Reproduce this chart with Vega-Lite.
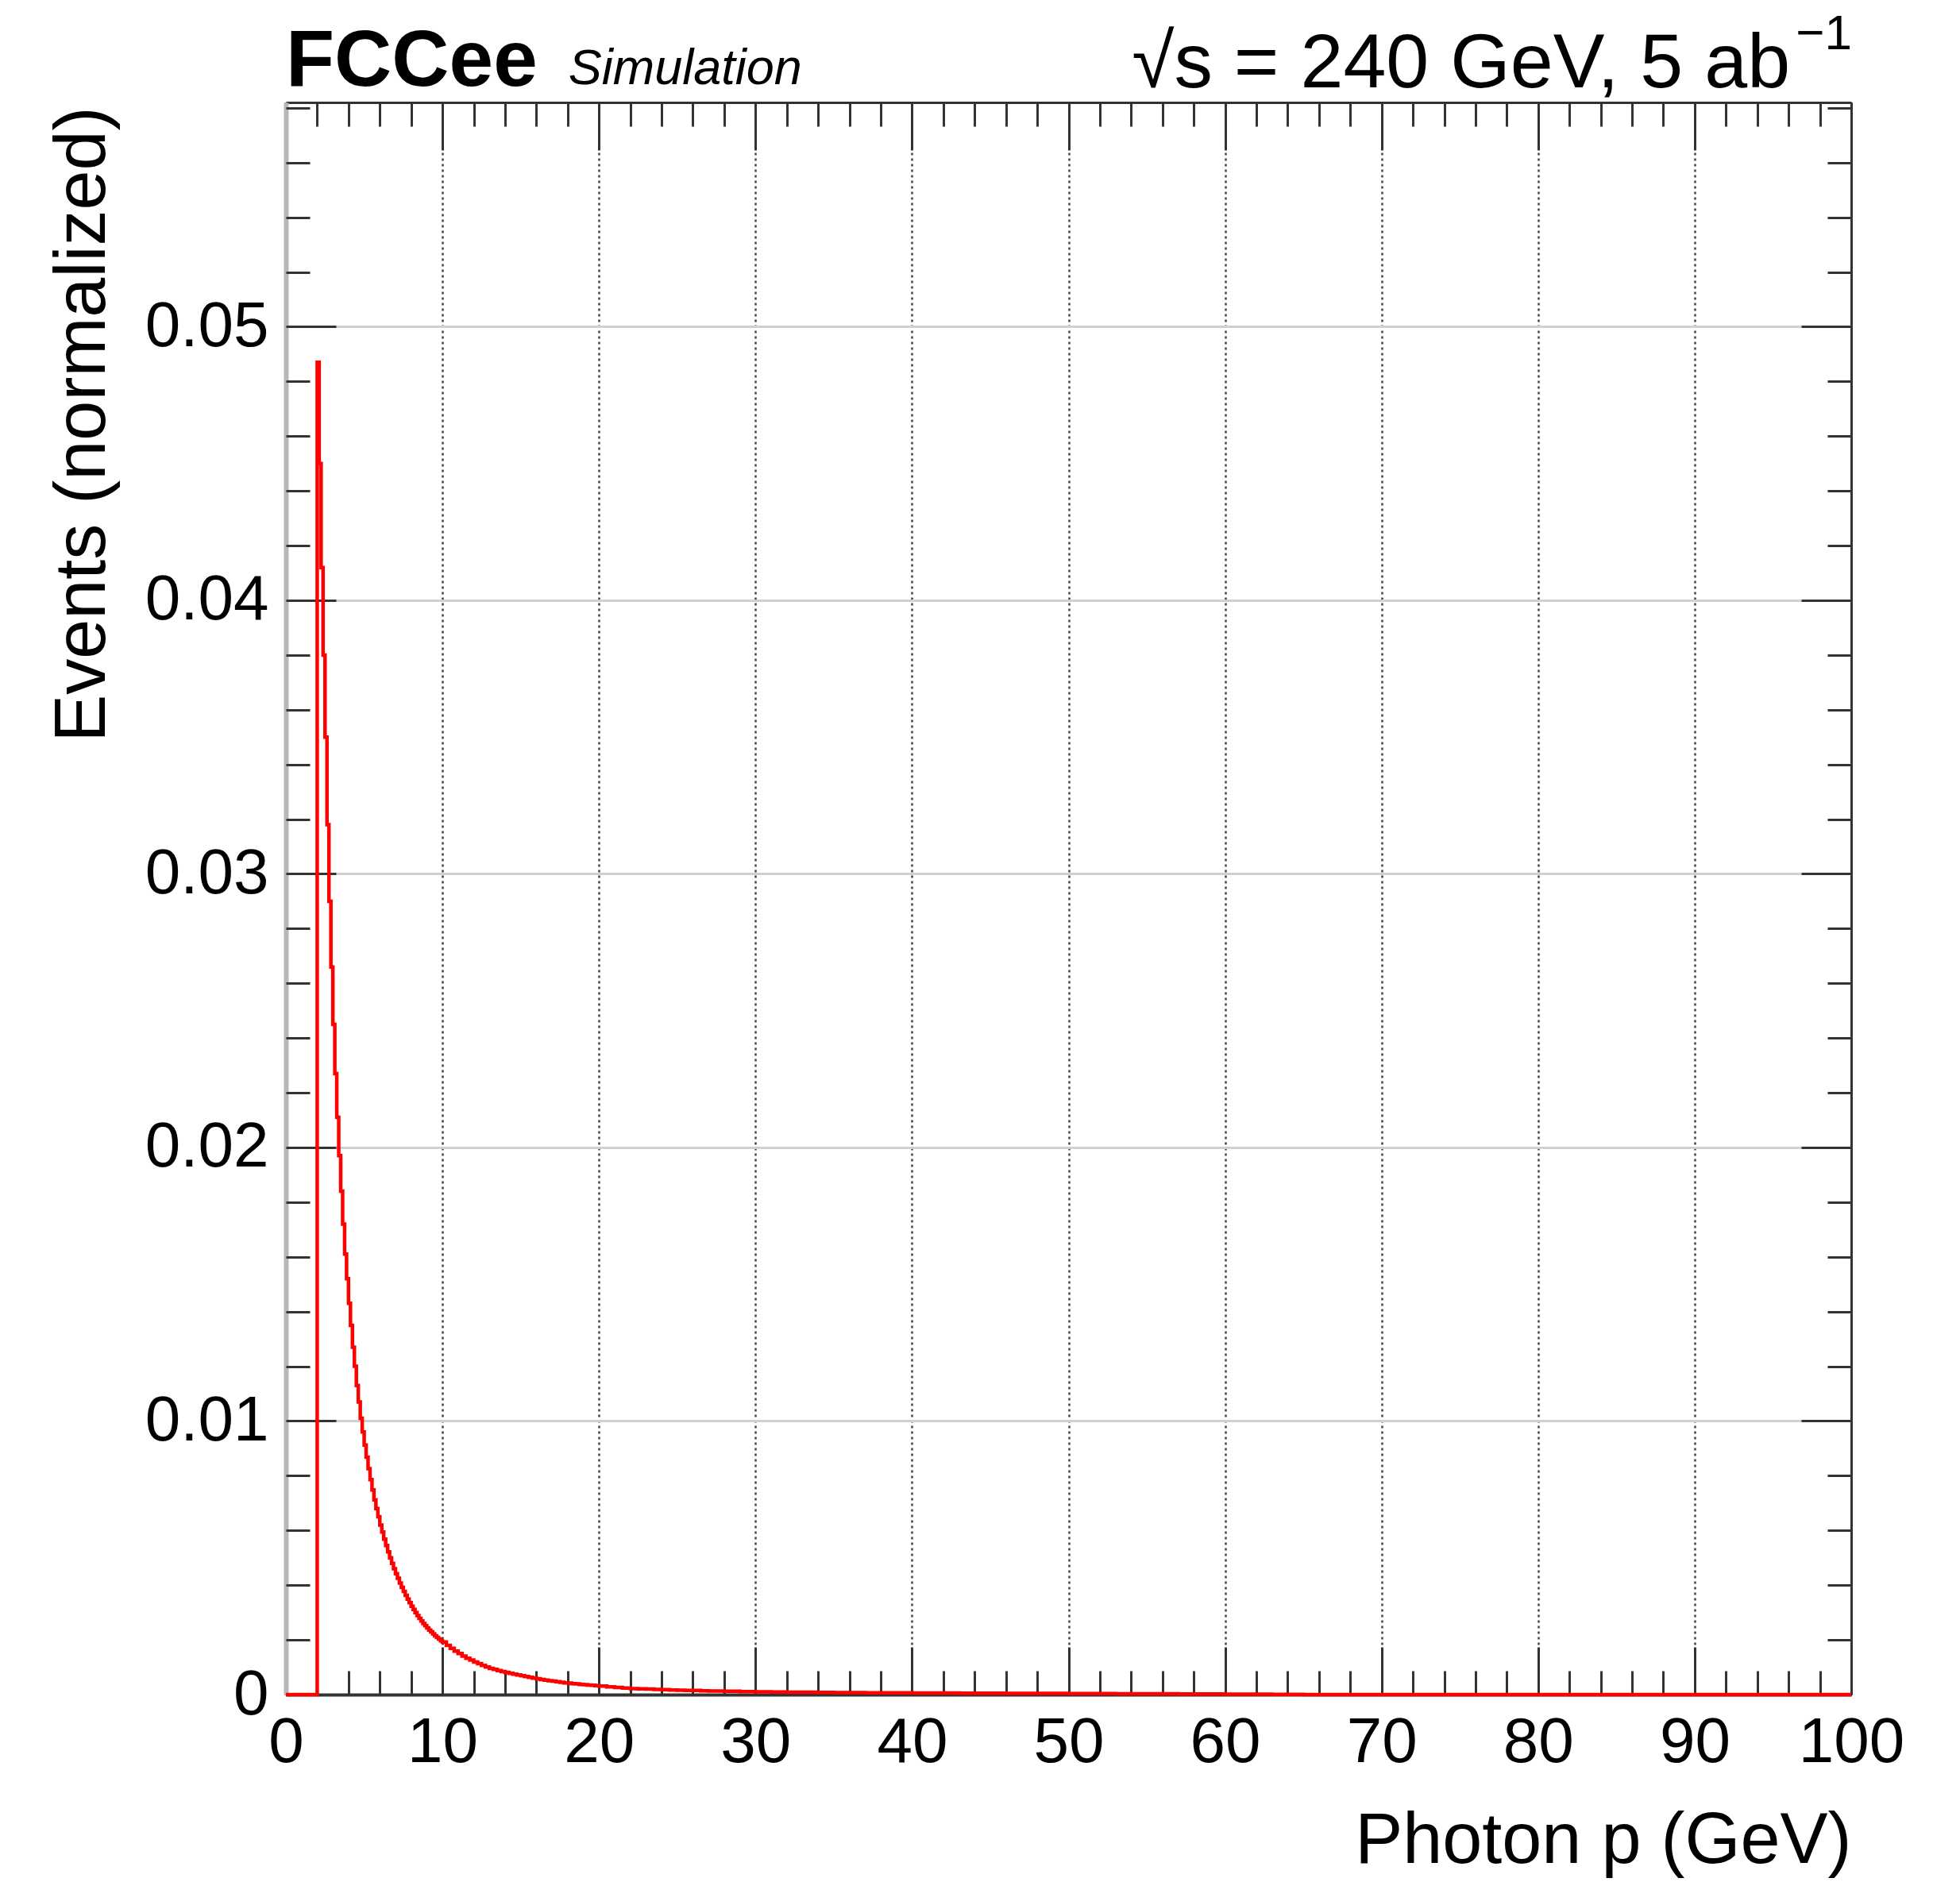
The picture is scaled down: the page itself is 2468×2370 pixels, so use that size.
{
  "$schema": "https://vega.github.io/schema/vega-lite/v6.json",
  "width": 1971,
  "height": 2005,
  "autosize": {"type": "none"},
  "padding": {"left": 360, "top": 129, "right": 137, "bottom": 236},
  "background": "white",
  "config": {"view": {"stroke": null}, "font": "Liberation Sans"},
  "datasets": {
    "hist": [
      {"p": 0, "v": 0},
      {"p": 2.0, "v": 0.0487}, {"p": 2.125, "v": 0.045}, {"p": 2.25, "v": 0.0412}, {"p": 2.375, "v": 0.038},
      {"p": 2.5, "v": 0.035}, {"p": 2.625, "v": 0.0318}, {"p": 2.75, "v": 0.029}, {"p": 2.875, "v": 0.0266},
      {"p": 3.0, "v": 0.0245}, {"p": 3.125, "v": 0.0227}, {"p": 3.25, "v": 0.0211}, {"p": 3.375, "v": 0.0197},
      {"p": 3.5, "v": 0.0184}, {"p": 3.625, "v": 0.0172}, {"p": 3.75, "v": 0.0161}, {"p": 3.875, "v": 0.0152},
      {"p": 4.0, "v": 0.0143}, {"p": 4.125, "v": 0.0135}, {"p": 4.25, "v": 0.0127}, {"p": 4.375, "v": 0.012},
      {"p": 4.5, "v": 0.0113}, {"p": 4.625, "v": 0.0107}, {"p": 4.75, "v": 0.0101}, {"p": 4.875, "v": 0.0096},
      {"p": 5.0, "v": 0.00912}, {"p": 5.125, "v": 0.00868}, {"p": 5.25, "v": 0.00826}, {"p": 5.375, "v": 0.00786},
      {"p": 5.5, "v": 0.00748}, {"p": 5.625, "v": 0.00712}, {"p": 5.75, "v": 0.0068}, {"p": 5.875, "v": 0.0065},
      {"p": 6.0, "v": 0.0062}, {"p": 6.125, "v": 0.00594}, {"p": 6.25, "v": 0.00568}, {"p": 6.375, "v": 0.00545},
      {"p": 6.5, "v": 0.00522}, {"p": 6.625, "v": 0.005}, {"p": 6.75, "v": 0.0048}, {"p": 6.875, "v": 0.0046},
      {"p": 7.0, "v": 0.00442}, {"p": 7.125, "v": 0.00425}, {"p": 7.25, "v": 0.00408}, {"p": 7.375, "v": 0.00392},
      {"p": 7.5, "v": 0.00377}, {"p": 7.625, "v": 0.00363}, {"p": 7.75, "v": 0.00349}, {"p": 7.875, "v": 0.00336},
      {"p": 8.0, "v": 0.00323}, {"p": 8.125, "v": 0.00311}, {"p": 8.25, "v": 0.003}, {"p": 8.375, "v": 0.00289},
      {"p": 8.5, "v": 0.00279}, {"p": 8.625, "v": 0.00269}, {"p": 8.75, "v": 0.0026}, {"p": 8.875, "v": 0.00252},
      {"p": 9.0, "v": 0.00244}, {"p": 9.125, "v": 0.00236}, {"p": 9.25, "v": 0.00229}, {"p": 9.375, "v": 0.00222},
      {"p": 9.5, "v": 0.00215}, {"p": 9.625, "v": 0.00209}, {"p": 9.75, "v": 0.00203}, {"p": 9.875, "v": 0.00197},
      {"p": 10, "v": 0.00192}, {"p": 10.25, "v": 0.0018}, {"p": 10.5, "v": 0.00169}, {"p": 10.75, "v": 0.00159},
      {"p": 11, "v": 0.0015}, {"p": 11.25, "v": 0.00141}, {"p": 11.5, "v": 0.00133}, {"p": 11.75, "v": 0.00126},
      {"p": 12, "v": 0.00119}, {"p": 12.25, "v": 0.00113}, {"p": 12.5, "v": 0.00107}, {"p": 12.75, "v": 0.00101},
      {"p": 13, "v": 0.00096}, {"p": 13.25, "v": 0.00092}, {"p": 13.5, "v": 0.00088}, {"p": 13.75, "v": 0.00084},
      {"p": 14, "v": 0.00081}, {"p": 14.25, "v": 0.00078}, {"p": 14.5, "v": 0.00075}, {"p": 14.75, "v": 0.00072},
      {"p": 15, "v": 0.00069}, {"p": 15.25, "v": 0.00066}, {"p": 15.5, "v": 0.00063}, {"p": 15.75, "v": 0.0006},
      {"p": 16, "v": 0.00058}, {"p": 16.25, "v": 0.00055}, {"p": 16.5, "v": 0.00053}, {"p": 16.75, "v": 0.00051},
      {"p": 17, "v": 0.00049}, {"p": 17.25, "v": 0.00047}, {"p": 17.5, "v": 0.00045}, {"p": 17.75, "v": 0.00043},
      {"p": 18, "v": 0.00042}, {"p": 18.25, "v": 0.0004}, {"p": 18.5, "v": 0.00039}, {"p": 18.75, "v": 0.00037},
      {"p": 19, "v": 0.00036}, {"p": 19.25, "v": 0.00035}, {"p": 19.5, "v": 0.00034}, {"p": 19.75, "v": 0.00033},
      {"p": 20, "v": 0.00031}, {"p": 20.5, "v": 0.00028}, {"p": 21, "v": 0.00026}, {"p": 21.5, "v": 0.00024},
      {"p": 22, "v": 0.00022}, {"p": 22.5, "v": 0.00021}, {"p": 23, "v": 0.0002}, {"p": 23.5, "v": 0.00019},
      {"p": 24, "v": 0.00018}, {"p": 24.5, "v": 0.00017}, {"p": 25, "v": 0.00016}, {"p": 25.5, "v": 0.00015},
      {"p": 26, "v": 0.00015}, {"p": 26.5, "v": 0.00014}, {"p": 27, "v": 0.00013}, {"p": 27.5, "v": 0.00013},
      {"p": 28, "v": 0.00012}, {"p": 28.5, "v": 0.00012}, {"p": 29, "v": 0.00011}, {"p": 29.5, "v": 0.00011},
      {"p": 30, "v": 0.0001}, {"p": 31, "v": 0.000095}, {"p": 32, "v": 0.00009}, {"p": 33, "v": 0.000085},
      {"p": 34, "v": 0.00008}, {"p": 35, "v": 0.000076}, {"p": 36, "v": 0.000072}, {"p": 37, "v": 0.000068},
      {"p": 38, "v": 0.000065}, {"p": 39, "v": 0.000062}, {"p": 40, "v": 0.00006}, {"p": 41, "v": 0.000057},
      {"p": 42, "v": 0.000055}, {"p": 43, "v": 0.000052}, {"p": 44, "v": 0.00005}, {"p": 45, "v": 0.000048},
      {"p": 46, "v": 0.000046}, {"p": 47, "v": 0.000044}, {"p": 48, "v": 0.000042}, {"p": 49, "v": 0.00004},
      {"p": 50, "v": 0.000038}, {"p": 51, "v": 0.000036}, {"p": 52, "v": 0.000034}, {"p": 53, "v": 0.000032},
      {"p": 54, "v": 0.00003}, {"p": 55, "v": 0.000028}, {"p": 56, "v": 0.000026}, {"p": 57, "v": 0.000024},
      {"p": 58, "v": 0.000022}, {"p": 59, "v": 0.00002}, {"p": 60, "v": 0.000018}, {"p": 61, "v": 0.000015},
      {"p": 62, "v": 0.000012}, {"p": 63, "v": 0.00001}, {"p": 64, "v": 0.000008}, {"p": 65, "v": 0},
      {"p": 100, "v": 0}
    ]
  },
  "layer": [
    {
      "data": {"name": "hist"},
      "mark": {"type": "line", "interpolate": "step-after", "color": "#ff0000", "strokeWidth": 4.5},
      "encoding": {
        "x": {
          "field": "p", "type": "quantitative",
          "scale": {"domain": [0, 100], "nice": false, "zero": false},
          "axis": {
            "orient": "bottom",
            "values": [0, 10, 20, 30, 40, 50, 60, 70, 80, 90, 100],
            "format": "d",
            "ticks": false,
            "labels": true,
            "labelFont": "Liberation Sans", "labelFontSize": 80, "labelColor": "#000000",
            "labelBaseline": "alphabetic", "labelPadding": 84,
            "labelFlush": false, "labelOverlap": false,
            "domain": true, "domainColor": "#333333", "domainWidth": 4,
            "grid": true, "gridColor": "#444444", "gridDash": [3, 4], "gridWidth": 2.5,
            "title": "Photon p (GeV)",
            "titleFont": "Liberation Sans", "titleFontSize": 90, "titleFontWeight": "normal", "titleColor": "#000000",
            "titleAlign": "right", "titleBaseline": "alphabetic", "titleX": 1971, "titleY": 211, "titleAngle": 0
          }
        },
        "y": {
          "field": "v", "type": "quantitative",
          "scale": {"domain": [0, 0.0582], "nice": false, "zero": false},
          "axis": {
            "orient": "left",
            "values": [0, 0.01, 0.02, 0.03, 0.04, 0.05],
            "format": ".2~f",
            "ticks": false,
            "labels": true,
            "labelFont": "Liberation Sans", "labelFontSize": 80, "labelColor": "#000000",
            "labelPadding": 22, "labelBaseline": "middle",
            "labelFlush": false, "labelOverlap": false,
            "domain": true, "domainColor": "#b8b8b8", "domainWidth": 6,
            "grid": true, "gridColor": "#d0d0d0", "gridWidth": 3,
            "title": "Events (normalized)",
            "titleFont": "Liberation Sans", "titleFontSize": 90, "titleFontWeight": "normal", "titleColor": "#000000",
            "titleAngle": 270, "titleAlign": "right", "titleBaseline": "alphabetic", "titleX": -229, "titleY": 5
          }
        }
      }
    },
    {
      "data": {"name": "hist"},
      "mark": {"type": "line", "opacity": 0},
      "encoding": {
        "x": {
          "field": "p", "type": "quantitative",
          "scale": {"domain": [0, 100], "nice": false, "zero": false},
          "axis": {
            "orient": "bottom",
            "values": [0,2,4,6,8,10,12,14,16,18,20,22,24,26,28,30,32,34,36,38,40,42,44,46,48,50,52,54,56,58,60,62,64,66,68,70,72,74,76,78,80,82,84,86,88,90,92,94,96,98,100],
            "labels": false, "domain": false, "grid": false, "ticks": true,
            "tickColor": "#333333", "tickWidth": 3,
            "tickSize": {"condition": {"test": "datum.value % 10 === 0", "value": -60}, "value": -30},
            "title": null
          }
        },
        "y": {
          "field": "v", "type": "quantitative",
          "scale": {"domain": [0, 0.0582], "nice": false, "zero": false},
          "axis": {
            "orient": "left",
            "values": [0,0.002,0.004,0.006,0.008,0.01,0.012,0.014,0.016,0.018,0.02,0.022,0.024,0.026,0.028,0.03,0.032,0.034,0.036,0.038,0.04,0.042,0.044,0.046,0.048,0.05,0.052,0.054,0.056,0.058],
            "labels": false, "domain": false, "grid": false, "ticks": true,
            "tickColor": "#333333", "tickWidth": 3,
            "tickSize": {"condition": {"test": "round(datum.value * 1000) % 10 === 0", "value": -63}, "value": -30},
            "title": null
          }
        }
      }
    },
    {
      "data": {"name": "hist"},
      "mark": {"type": "line", "opacity": 0},
      "encoding": {
        "x": {
          "field": "p", "type": "quantitative",
          "scale": {"domain": [0, 100], "nice": false, "zero": false},
          "axis": {
            "orient": "top",
            "values": [0,2,4,6,8,10,12,14,16,18,20,22,24,26,28,30,32,34,36,38,40,42,44,46,48,50,52,54,56,58,60,62,64,66,68,70,72,74,76,78,80,82,84,86,88,90,92,94,96,98,100],
            "labels": false, "grid": false, "ticks": true,
            "domain": true, "domainColor": "#333333", "domainWidth": 3,
            "tickColor": "#333333", "tickWidth": 3,
            "tickSize": {"condition": {"test": "datum.value % 10 === 0", "value": -60}, "value": -30},
            "title": null
          }
        },
        "y": {
          "field": "v", "type": "quantitative",
          "scale": {"domain": [0, 0.0582], "nice": false, "zero": false},
          "axis": {
            "orient": "right",
            "values": [0,0.002,0.004,0.006,0.008,0.01,0.012,0.014,0.016,0.018,0.02,0.022,0.024,0.026,0.028,0.03,0.032,0.034,0.036,0.038,0.04,0.042,0.044,0.046,0.048,0.05,0.052,0.054,0.056,0.058],
            "labels": false, "grid": false, "ticks": true,
            "domain": true, "domainColor": "#333333", "domainWidth": 3,
            "tickColor": "#333333", "tickWidth": 3,
            "tickSize": {"condition": {"test": "round(datum.value * 1000) % 10 === 0", "value": -63}, "value": -30},
            "title": null
          }
        }
      }
    },
    {
      "data": {"values": [{"t": "FCCee"}]},
      "mark": {"type": "text", "align": "left", "baseline": "alphabetic", "dy": -21, "fontSize": 100, "fontWeight": "bold", "font": "Liberation Sans", "color": "#000000"},
      "encoding": {
        "text": {"field": "t"},
        "x": {"datum": 0, "type": "quantitative", "scale": {"domain": [0, 100], "nice": false, "zero": false}, "axis": null},
        "y": {"datum": 0.0582, "type": "quantitative", "scale": {"domain": [0, 0.0582], "nice": false, "zero": false}, "axis": null}
      }
    },
    {
      "data": {"values": [{"t": "Simulation"}]},
      "mark": {"type": "text", "align": "left", "baseline": "alphabetic", "dy": -23, "fontSize": 63, "fontStyle": "italic", "font": "Liberation Sans", "color": "#000000"},
      "encoding": {
        "text": {"field": "t"},
        "x": {"datum": 18.05, "type": "quantitative", "scale": {"domain": [0, 100], "nice": false, "zero": false}, "axis": null},
        "y": {"datum": 0.0582, "type": "quantitative", "scale": {"domain": [0, 0.0582], "nice": false, "zero": false}, "axis": null}
      }
    },
    {
      "data": {"values": [{"t": "√s = 240 GeV, 5 ab"}]},
      "mark": {"type": "text", "align": "right", "baseline": "alphabetic", "dy": -19, "fontSize": 97, "font": "Liberation Sans", "color": "#000000"},
      "encoding": {
        "text": {"field": "t"},
        "x": {"datum": 96.1, "type": "quantitative", "scale": {"domain": [0, 100], "nice": false, "zero": false}, "axis": null},
        "y": {"datum": 0.0582, "type": "quantitative", "scale": {"domain": [0, 0.0582], "nice": false, "zero": false}, "axis": null}
      }
    },
    {
      "data": {"values": [{"t": "−1"}]},
      "mark": {"type": "text", "align": "right", "baseline": "alphabetic", "dy": -67, "dx": 1, "fontSize": 62, "font": "Liberation Sans", "color": "#000000"},
      "encoding": {
        "text": {"field": "t"},
        "x": {"datum": 100, "type": "quantitative", "scale": {"domain": [0, 100], "nice": false, "zero": false}, "axis": null},
        "y": {"datum": 0.0582, "type": "quantitative", "scale": {"domain": [0, 0.0582], "nice": false, "zero": false}, "axis": null}
      }
    }
  ],
  "resolve": {
    "scale": {"x": "shared", "y": "shared"},
    "axis": {"x": "independent", "y": "independent"}
  }
}
